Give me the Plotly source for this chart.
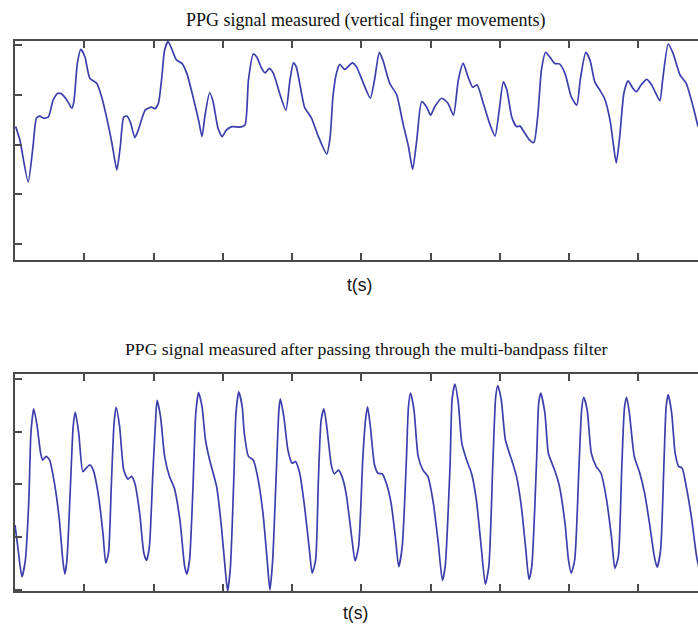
import plotly.graph_objects as go

# ---------------- data ----------------
top_title = "PPG signal measured (vertical finger movements)"
bottom_title = "PPG signal measured after passing through the multi-bandpass filter"
x_label = "t(s)"

t_raw = [0.01, 0.07, 0.19, 0.26, 0.31, 0.36, 0.41, 0.48, 0.55, 0.62, 0.67, 0.75, 0.82, 0.85, 0.90, 0.95,
         1.01, 1.08, 1.18, 1.25, 1.32, 1.40, 1.47, 1.52, 1.57, 1.62, 1.67, 1.73, 1.78, 1.88, 1.97,
         2.02, 2.07, 2.12, 2.16, 2.21, 2.26, 2.33, 2.41, 2.48, 2.57, 2.65, 2.70, 2.74, 2.81, 2.86, 2.93, 2.99,
         3.05, 3.13, 3.25, 3.32, 3.37, 3.44, 3.49, 3.56, 3.61, 3.67, 3.73, 3.82, 3.91, 3.97,
         4.02, 4.06, 4.14, 4.18, 4.28, 4.38, 4.50, 4.55, 4.59, 4.64, 4.69, 4.76, 4.87, 4.93,
         5.03, 5.13, 5.19, 5.26, 5.31, 5.41, 5.51, 5.60, 5.68, 5.74, 5.80, 5.87, 5.94,
         6.00, 6.06, 6.16, 6.25, 6.33, 6.40, 6.47, 6.54, 6.61, 6.67, 6.76, 6.85, 6.93, 6.99,
         7.05, 7.10, 7.17, 7.24, 7.29, 7.36, 7.43, 7.49, 7.55, 7.60, 7.66, 7.72, 7.79, 7.86, 7.94,
         8.03, 8.11, 8.16, 8.24, 8.30, 8.37, 8.44, 8.51, 8.59, 8.63, 8.68, 8.73, 8.79, 8.85, 8.92, 8.97,
         9.04, 9.12, 9.19, 9.24, 9.31, 9.35, 9.43, 9.50, 9.60, 9.69, 9.79, 9.86]
ppg_raw = [2.36, 2.09, 1.25, 1.96, 2.53, 2.57, 2.53, 2.55, 2.89, 3.03, 3.02, 2.89, 2.73, 2.86, 3.63, 3.91,
           3.76, 3.33, 3.23, 2.96, 2.56, 2.02, 1.49, 1.96, 2.55, 2.57, 2.43, 2.14, 2.29, 2.69, 2.75,
           2.72, 2.83, 3.36, 3.90, 4.07, 3.93, 3.70, 3.63, 3.43, 2.96, 2.49, 2.16, 2.56, 3.04, 2.86, 2.33, 2.16,
           2.29, 2.36, 2.35, 2.39, 3.30, 3.82, 3.76, 3.53, 3.44, 3.53, 3.43, 3.03, 2.69, 3.30,
           3.64, 3.56, 3.00, 2.75, 2.53, 2.16, 1.81, 2.16, 2.96, 3.43, 3.61, 3.51, 3.64, 3.56,
           3.23, 2.93, 3.30, 3.85, 3.70, 3.23, 3.00, 2.43, 1.96, 1.50, 2.09, 2.86, 2.76,
           2.59, 2.76, 2.93, 2.83, 2.59, 3.30, 3.63, 3.36, 3.15, 3.20, 2.83, 2.43, 2.17, 2.69,
           3.26, 3.10, 2.56, 2.36, 2.37, 2.23, 2.09, 2.04, 2.63, 3.50, 3.85, 3.76, 3.63, 3.62, 3.43,
           2.96, 2.79, 3.30, 3.85, 3.70, 3.26, 3.10, 2.93, 2.49, 2.09, 1.63, 2.16, 3.03, 3.28, 3.13, 3.06,
           3.20, 3.31, 3.20, 3.06, 2.88, 3.30, 4.02, 3.83, 3.40, 3.23, 2.76, 2.36]

t_filt = [0.00, 0.04, 0.10, 0.15, 0.20, 0.23, 0.27, 0.32, 0.37, 0.40, 0.45, 0.50, 0.57, 0.64, 0.69, 0.72,
          0.75, 0.80, 0.84, 0.87, 0.92, 0.98, 1.03, 1.08, 1.13, 1.20, 1.27, 1.31, 1.35, 1.39, 1.43, 1.46,
          1.51, 1.57, 1.63, 1.68, 1.73, 1.80, 1.86, 1.90, 1.94, 1.99, 2.03, 2.05, 2.10, 2.16, 2.23, 2.30,
          2.38, 2.45, 2.48, 2.52, 2.57, 2.61, 2.65, 2.70, 2.75, 2.81, 2.91, 2.98, 3.04, 3.07, 3.11, 3.16,
          3.19, 3.23, 3.28, 3.31, 3.37, 3.44, 3.51, 3.58, 3.64, 3.68, 3.72, 3.77, 3.81, 3.83, 3.88, 3.94,
          4.00, 4.05, 4.11, 4.18, 4.25, 4.29, 4.34, 4.38, 4.42, 4.46, 4.50, 4.57, 4.61, 4.67, 4.72, 4.78,
          4.86, 4.91, 4.96, 5.02, 5.06, 5.09, 5.13, 5.19, 5.24, 5.30, 5.36, 5.43, 5.49, 5.54, 5.59, 5.65,
          5.68, 5.71, 5.76, 5.82, 5.89, 5.96, 6.04, 6.11, 6.17, 6.21, 6.28, 6.31, 6.35, 6.40, 6.45, 6.52,
          6.59, 6.66, 6.73, 6.79, 6.84, 6.90, 6.94, 6.97, 7.02, 7.08, 7.17, 7.24, 7.31, 7.37, 7.42, 7.46,
          7.53, 7.56, 7.59, 7.65, 7.70, 7.79, 7.86, 7.94, 7.99, 8.03, 8.08, 8.14, 8.18, 8.21, 8.26, 8.32,
          8.39, 8.46, 8.54, 8.61, 8.66, 8.71, 8.76, 8.80, 8.83, 8.87, 8.94, 9.02, 9.09, 9.16, 9.23, 9.27,
          9.32, 9.37, 9.40, 9.43, 9.48, 9.53, 9.58, 9.63, 9.69, 9.77, 9.84, 9.88]
ppg_filt = [1.23, 0.82, 0.25, 0.57, 1.71, 2.97, 3.43, 3.10, 2.59, 2.46, 2.53, 2.46, 2.02, 1.33, 0.57, 0.30,
            0.57, 1.96, 3.10, 3.37, 2.97, 2.24, 2.31, 2.37, 2.27, 1.83, 1.07, 0.51, 0.70, 1.96, 3.16, 3.46,
            3.10, 2.27, 2.10, 2.15, 2.02, 1.45, 0.70, 0.56, 0.82, 2.21, 3.22, 3.59, 3.29, 2.53, 2.15, 1.93,
            1.33, 0.44, 0.30, 0.57, 1.96, 3.35, 3.74, 3.47, 2.84, 2.46, 1.96, 1.20, 0.32, -0.02, 0.44, 2.15,
            3.35, 3.75, 3.47, 2.97, 2.53, 2.46, 2.09, 1.45, 0.57, 0.00, 0.57, 2.15, 3.41, 3.62, 3.29, 2.65,
            2.40, 2.43, 2.21, 1.58, 0.76, 0.32, 0.57, 2.09, 3.22, 3.43, 3.10, 2.34, 2.20, 2.27, 2.15, 1.83,
            1.01, 0.55, 0.82, 2.46, 3.22, 3.47, 3.10, 2.37, 2.21, 2.20, 2.02, 1.64, 1.01, 0.44, 0.82, 2.46,
            3.47, 3.73, 3.41, 2.53, 2.27, 2.15, 1.64, 0.89, 0.18, 0.44, 2.34, 3.60, 3.90, 3.54, 2.78, 2.46,
            2.21, 1.71, 0.82, 0.11, 0.44, 2.46, 3.66, 3.87, 3.60, 2.84, 2.46, 2.15, 1.58, 0.82, 0.20, 0.44,
            2.46, 3.54, 3.73, 3.35, 2.59, 2.27, 1.96, 1.26, 0.57, 0.32, 0.57, 2.27, 3.41, 3.65, 3.41, 2.59,
            2.34, 2.21, 1.71, 1.01, 0.41, 0.63, 2.34, 3.47, 3.65, 3.35, 2.53, 2.21, 1.83, 1.26, 0.63, 0.43,
            0.76, 2.46, 3.47, 3.70, 3.35, 2.59, 2.34, 2.31, 1.96, 1.33, 0.63, 0.38]

x_ticks = [0, 1, 2, 3, 4, 5, 6, 7, 8, 9]
y_ticks = [0, 1, 2, 3, 4]

# ---------------- figure ----------------
W, H = 698, 624
line_color = "rgb(60,62,172)"
axis_color = "#4a4a4a"

fig = go.Figure()
fig.add_trace(go.Scatter(x=t_raw, y=ppg_raw, mode="lines", xaxis="x", yaxis="y",
                         line=dict(color=line_color, width=1.7, shape="spline", smoothing=0.6),
                         showlegend=False, hoverinfo="skip"))
fig.add_trace(go.Scatter(x=t_filt, y=ppg_filt, mode="lines", xaxis="x2", yaxis="y2",
                         line=dict(color=line_color, width=1.7, shape="spline", smoothing=0.6),
                         showlegend=False, hoverinfo="skip"))

def xax(domain, anchor, rng):
    return dict(domain=domain, anchor=anchor, range=rng, tickvals=x_ticks, showticklabels=False,
                ticks="inside", ticklen=7, tickwidth=1.5, tickcolor=axis_color,
                showline=True, linecolor=axis_color, linewidth=1.5, mirror="ticks",
                showgrid=False, zeroline=False, fixedrange=True)

def yax(domain, anchor, rng):
    return dict(domain=domain, anchor=anchor, range=rng, tickvals=y_ticks, showticklabels=False,
                ticks="inside", ticklen=7, tickwidth=1.5, tickcolor=axis_color,
                showline=True, linecolor=axis_color, linewidth=1.5, mirror=False,
                showgrid=False, zeroline=False, fixedrange=True)

l_px = 15
fig.update_layout(
    width=W, height=H,
    margin=dict(l=0, r=0, t=0, b=0),
    paper_bgcolor="white", plot_bgcolor="white",
    xaxis=xax([l_px / W, 1.0], "y", [0, 9.86]),
    yaxis=yax([(H - 260) / H, (H - 41) / H], "x", [-0.32, 4.08]),
    xaxis2=xax([l_px / W, 1.0], "y2", [0, 9.86]),
    yaxis2=yax([(H - 591) / H, (H - 374) / H], "x2", [-0.02, 4.09]),
    annotations=[
        dict(text=top_title, x=366 / W, y=1 - 21 / H, xref="paper", yref="paper",
             xanchor="center", yanchor="middle", showarrow=False,
             font=dict(family="Liberation Serif, Times New Roman, serif", size=18, color="#111")),
        dict(text=bottom_title, x=366 / W, y=1 - 349 / H, xref="paper", yref="paper",
             xanchor="center", yanchor="middle", showarrow=False,
             font=dict(family="Liberation Serif, Times New Roman, serif", size=17.7, color="#111")),
        dict(text=x_label, x=359 / W, y=1 - 285 / H, xref="paper", yref="paper",
             xanchor="center", yanchor="middle", showarrow=False,
             font=dict(family="Liberation Sans, Arial, sans-serif", size=17.5, color="#111")),
        dict(text=x_label, x=355 / W, y=1 - 613 / H, xref="paper", yref="paper",
             xanchor="center", yanchor="middle", showarrow=False,
             font=dict(family="Liberation Sans, Arial, sans-serif", size=17.5, color="#111")),
    ],
)

fig.write_html("out.html", config={"displayModeBar": False})
